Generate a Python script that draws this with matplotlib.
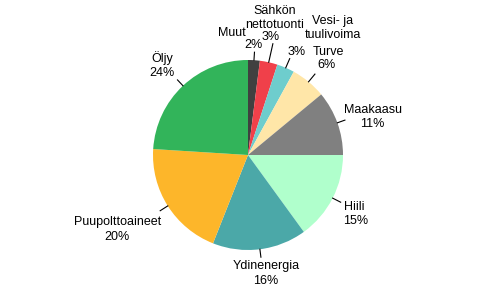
import numpy as np
import matplotlib
matplotlib.use("Agg")
import matplotlib.pyplot as plt

# energy sources, clockwise from 12 o'clock
names = ["Muut", "Sähkön\nnettotuonti", "Vesi- ja\ntuulivoima", "Turve", "Maakaasu",
         "Hiili", "Ydinenergia", "Puupolttoaineet", "Öljy"]
shares = [2, 3, 3, 6, 11, 15, 16, 20, 24]
colors = ["#404040", "#F0404A", "#6ECDCD", "#FFE6A8", "#808080",
          "#B0FFCC", "#4BA8A8", "#FDB62A", "#32B45A"]

# label placement in image pixels (x, y from top): name, then percentage
name_pos = [(232, 33), (275, 18), (333, 28), (328, 52), (373, 110),
            (354, 207), (266, 266), (118, 222), (162, 58)]
pct_pos = [(253, 45), (271, 37), (297, 52), (327, 65), (372, 124),
           (356, 221), (266, 281), (117, 237), (162, 73)]
leader_len = [8, 19, 10, 10, 8, 9, 8, 9, 8]

W, H = 495, 288
cx, cy, r = 248, 155, 95

plt.rcParams['font.family'] = ['Liberation Sans', 'DejaVu Sans']
fig = plt.figure(figsize=(W / 100, H / 100), dpi=100)
ax = fig.add_axes([0, 0, 1, 1])

wedges, _ = ax.pie(shares, colors=colors, startangle=90, counterclock=False,
                   center=(cx, H - cy), radius=r, frame=True)
ax.set_xlim(0, W)
ax.set_ylim(0, H)
ax.set_aspect('equal')
ax.axis('off')

for w, name, s, npos, ppos, ll in zip(wedges, names, shares, name_pos, pct_pos, leader_len):
    mid = np.deg2rad((w.theta1 + w.theta2) / 2)
    x0 = cx + r * np.cos(mid)
    y0 = H - cy + r * np.sin(mid)
    x1 = cx + (r + ll) * np.cos(mid)
    y1 = H - cy + (r + ll) * np.sin(mid)
    ax.plot([x0, x1], [y0, y1], color="black", lw=0.8)
    ax.text(npos[0], H - npos[1], name, ha='center', va='center', fontsize=9,
            linespacing=1.15)
    ax.text(ppos[0], H - ppos[1], f"{s}%", ha='center', va='center', fontsize=9)

fig.savefig("out.png", dpi=100)
